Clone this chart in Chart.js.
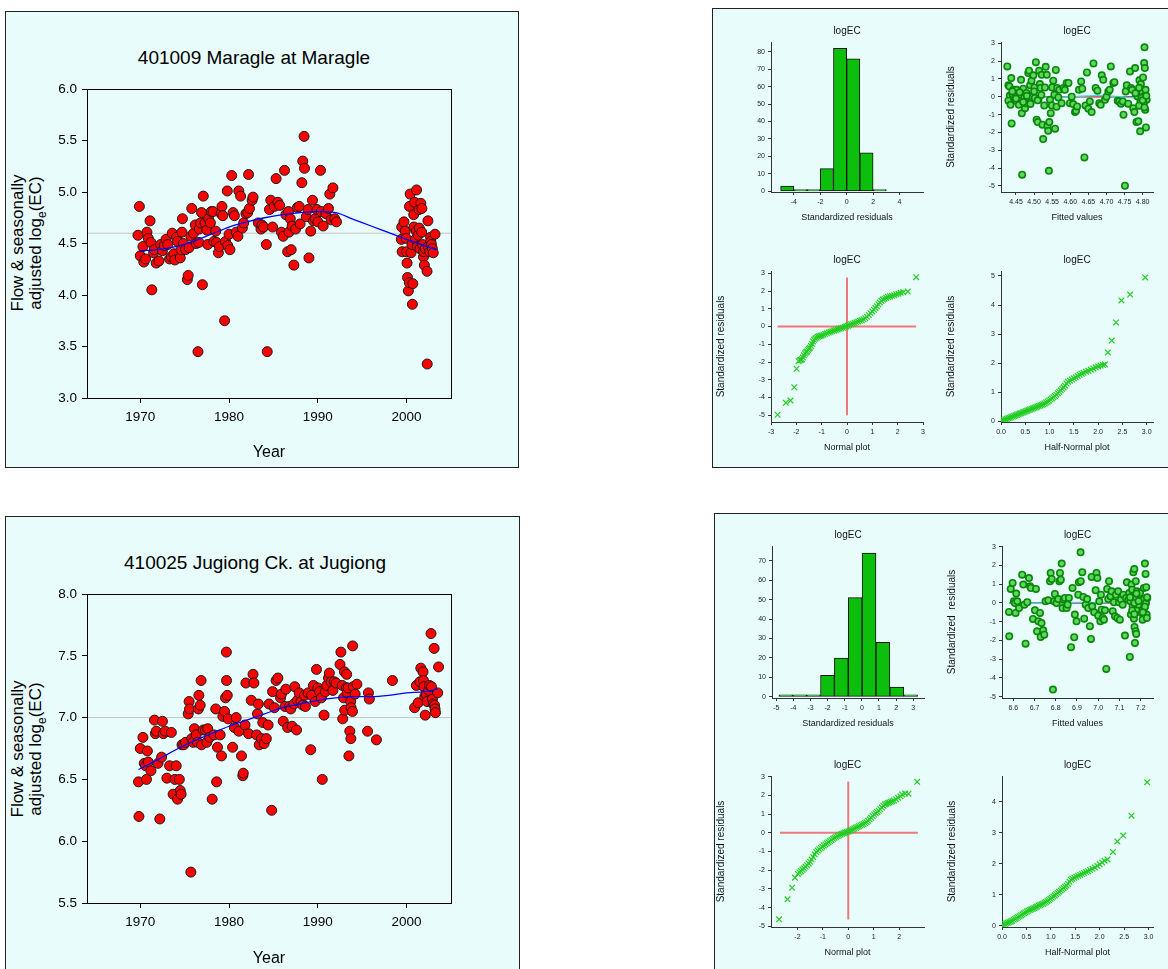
<!DOCTYPE html>
<html>
<head>
<meta charset="utf-8">
<script src="https://cdn.jsdelivr.net/npm/chart.js@4.4.0/dist/chart.umd.min.js"></script>
<style>
body { margin:0; width:1168px; height:969px; overflow:hidden; background:#fff; position:relative; font-family:Arial,"Liberation Sans",sans-serif; }
.panel { position:absolute; background:#e8fcfc; border:1px solid #222; box-sizing:border-box; }
canvas { position:absolute; }
.ttl { position:absolute; transform:translate(-50%,-50%); white-space:nowrap; font-size:19px; color:#000; }
.ylab { position:absolute; transform:translate(-50%,-50%) rotate(-90deg); white-space:nowrap; text-align:center; font-size:17px; line-height:18px; color:#000; }
.ylab sub { font-size:12px; }
</style>
</head>
<body>
<div class="panel" style="left:5px;top:11px;width:514px;height:457px"></div>
<div class="panel" style="left:712px;top:8px;width:470px;height:460px"></div>
<div class="panel" style="left:5px;top:516px;width:515px;height:470px"></div>
<div class="panel" style="left:714px;top:513px;width:470px;height:470px"></div>

<div class="ttl" style="left:254px;top:58px">401009 Maragle at Maragle</div>
<div class="ylab" style="left:30px;top:243px">Flow &amp; seasonally<br>adjusted log<sub>e</sub>(EC)</div>
<div class="ttl" style="left:255px;top:563px">410025 Jugiong Ck. at Jugiong</div>
<div class="ylab" style="left:30px;top:749px">Flow &amp; seasonally<br>adjusted log<sub>e</sub>(EC)</div>

<canvas id="mainA" width="511" height="454" style="left:6px;top:12px"></canvas>
<canvas id="mainB" width="511" height="454" style="left:6px;top:517px"></canvas>
<canvas id="histA"></canvas>
<canvas id="fitA"></canvas>
<canvas id="normA"></canvas>
<canvas id="halfA"></canvas>
<canvas id="histB"></canvas>
<canvas id="fitB"></canvas>
<canvas id="normB"></canvas>
<canvas id="halfB"></canvas>

<script>
// ---- Maragle: flow & seasonally adjusted log(EC)
const maragleYear = [
  1969.74,1969.9,1970.0,1970.3,1970.4,1970.6,1970.75,1970.9,1971.1,1971.2,
  1971.3,1971.5,1971.6,1971.8,1972.1,1972.3,1972.5,1972.7,1972.9,1973.1,
  1973.3,1973.5,1973.6,1973.8,1973.9,1974.1,1974.2,1974.5,1974.6,1974.7,
  1974.75,1974.85,1975.1,1975.3,1975.4,1975.5,1975.7,1975.8,1976.0,1976.2,
  1976.3,1976.5,1976.6,1976.65,1976.8,1976.9,1977.0,1977.1,1977.3,1977.5,
  1977.6,1977.7,1977.9,1978.0,1978.2,1978.3,1978.5,1978.6,1978.8,1978.9,
  1979.1,1979.2,1979.3,1979.5,1979.6,1979.8,1979.85,1980.0,1980.1,1980.3,
  1980.45,1980.6,1980.8,1981.0,1981.1,1981.3,1981.5,1981.65,1981.9,1982.1,
  1982.2,1982.3,1982.6,1982.7,1983.3,1983.6,1983.7,1983.9,1984.2,1984.3,
  1984.55,1984.7,1984.9,1985.1,1985.3,1985.5,1985.7,1985.9,1986.1,1986.25,
  1986.4,1986.6,1986.7,1986.75,1986.9,1987.0,1987.1,1987.3,1987.5,1987.7,
  1987.9,1988.0,1988.2,1988.3,1988.45,1988.5,1988.7,1988.9,1989.0,1989.2,
  1989.4,1989.5,1989.7,1989.9,1990.0,1990.3,1990.4,1990.6,1990.9,1991.2,
  1991.35,1991.5,1991.7,1991.9,1992.1,1999.4,1999.45,1999.5,1999.7,1999.85,
  1999.95,2000.0,2000.05,2000.1,2000.2,2000.3,2000.32,2000.4,2000.5,2000.6,
  2000.65,2000.7,2000.8,2000.82,2000.9,2001.0,2001.1,2001.12,2001.2,2001.3,
  2001.4,2001.42,2001.5,2001.6,2001.7,2001.72,2001.8,2001.9,2001.92,2002.0,
  2002.1,2002.3,2002.32,2002.4,2002.45,2002.6,2002.7,2002.72,2002.8,2002.9,
  2003.0,2003.2
];
const maragleEC = [
  4.58,4.86,4.38,4.47,4.32,4.35,4.61,4.55,4.72,4.51,
  4.05,4.41,4.44,4.31,4.33,4.49,4.43,4.48,4.54,4.49,
  4.35,4.37,4.60,4.40,4.34,4.56,4.52,4.36,4.44,4.61,
  4.74,4.50,4.44,4.15,4.19,4.46,4.57,4.84,4.60,4.68,
  4.50,3.45,4.51,4.64,4.70,4.80,4.10,4.96,4.70,4.63,
  4.49,4.74,4.70,4.81,4.81,4.52,4.62,4.51,4.41,4.47,
  4.79,4.86,4.77,3.75,4.52,5.01,4.48,4.59,4.44,5.16,
  4.80,4.77,4.61,4.57,5.01,4.96,4.65,4.70,4.79,4.80,
  5.17,4.84,4.92,4.95,4.70,4.64,4.68,4.66,4.49,3.45,
  4.83,4.92,4.66,4.86,5.13,4.90,4.87,4.61,4.57,5.21,
  4.78,4.42,4.81,4.61,4.74,4.44,4.67,4.29,4.64,4.85,
  4.86,4.69,5.09,5.30,5.54,5.23,4.76,4.83,4.36,4.62,
  4.92,4.72,4.74,4.83,4.71,5.21,4.81,4.67,4.79,4.84,
  4.98,4.73,5.04,4.74,4.71,4.54,4.66,4.42,4.71,4.62,
  4.55,4.42,4.31,4.17,4.04,4.12,4.86,4.98,4.41,4.49,
  3.91,4.11,4.78,4.66,4.90,4.54,4.62,5.02,4.47,4.58,
  4.83,4.65,4.45,4.89,4.61,4.84,4.49,4.37,4.42,4.29,
  4.45,4.23,3.33,4.72,4.47,4.42,4.56,4.52,4.49,4.45,
  4.41,4.59
];
const maragleTrendYear = [1969.9,1972,1974,1976,1978,1980,1982,1984,1986,1988,1990,1992,1994,1996,1998,2000,2002,2003.3];
const maragleTrend = [4.43,4.44,4.47,4.52,4.59,4.66,4.71,4.75,4.78,4.80,4.81,4.80,4.735,4.67,4.605,4.54,4.48,4.44];
const maragleRef = 4.6;

// ---- Jugiong
const jugiongYear = [
  1969.8,1969.85,1970.0,1970.3,1970.45,1970.6,1970.7,1970.8,1970.9,1971.2,
  1971.6,1971.7,1971.8,1972.0,1972.2,1972.4,1972.5,1972.6,1972.8,1973.0,
  1973.3,1973.5,1973.7,1973.9,1974.05,1974.2,1974.4,1974.5,1974.6,1974.7,
  1974.9,1975.1,1975.4,1975.5,1975.55,1975.7,1975.8,1975.95,1976.1,1976.3,
  1976.45,1976.55,1976.6,1976.75,1976.85,1976.9,1977.1,1977.35,1977.5,1977.6,
  1977.8,1978.1,1978.3,1978.5,1978.6,1978.7,1979.0,1979.15,1979.3,1979.5,
  1979.6,1979.7,1979.72,1979.8,1979.9,1980.4,1980.6,1980.8,1981.1,1981.4,
  1981.55,1981.6,1981.8,1981.9,1982.2,1982.5,1982.7,1982.8,1983.1,1983.2,
  1983.3,1983.4,1983.65,1983.8,1983.95,1984.2,1984.4,1984.5,1984.8,1984.9,
  1985.1,1985.3,1985.5,1985.8,1985.9,1986.1,1986.3,1986.4,1986.6,1986.8,
  1986.95,1987.1,1987.3,1987.4,1987.6,1987.7,1987.9,1988.1,1988.3,1988.5,
  1988.6,1988.9,1989.2,1989.3,1989.5,1989.7,1989.85,1990.0,1990.2,1990.4,
  1990.5,1990.7,1990.85,1991.0,1991.2,1991.3,1991.5,1991.7,1991.85,1992.05,
  1992.5,1992.6,1992.75,1992.8,1992.9,1993.0,1993.02,1993.2,1993.25,1993.3,
  1993.4,1993.5,1993.6,1993.7,1993.72,1993.75,1993.9,1993.92,1994.0,1994.2,
  1994.4,1995.6,1995.7,1995.8,1996.6,1998.4,2000.9,2001.1,2001.3,2001.5,
  2001.6,2001.85,2001.9,2001.95,2002.05,2002.1,2002.2,2002.3,2002.5,2002.6,
  2002.75,2002.8,2002.9,2003.0,2003.1,2003.15,2003.2,2003.25,2003.5,2003.6
];
const jugiongEC = [
  6.48,6.20,6.75,6.84,6.63,6.61,6.50,6.73,6.64,6.57,
  6.98,6.87,6.89,6.63,6.18,6.68,6.97,6.87,6.89,6.51,
  6.61,6.88,6.38,6.50,6.61,6.34,6.50,6.41,6.38,6.78,
  6.78,6.80,7.03,7.13,7.07,5.75,6.83,6.80,6.91,6.86,
  6.80,7.07,7.18,7.10,7.30,6.78,6.90,6.90,6.80,6.91,
  6.84,6.34,6.86,7.07,6.48,6.76,6.86,6.69,7.01,7.05,
  7.16,7.53,7.30,7.18,6.99,6.76,6.92,7.00,6.89,6.69,
  6.53,6.55,6.94,7.28,6.87,7.14,7.35,7.28,6.86,7.03,
  7.11,6.78,6.83,6.96,6.79,6.83,6.94,7.11,6.25,7.21,
  7.08,7.30,7.32,7.16,7.19,6.97,7.09,7.23,6.92,7.09,
  7.07,6.93,7.11,7.25,6.90,7.14,7.20,7.13,7.10,7.18,
  7.09,7.20,6.74,7.18,7.26,7.13,7.39,7.24,7.21,7.16,
  6.50,7.02,7.21,7.26,7.32,7.36,7.29,7.22,7.29,7.28,
  7.43,7.53,7.26,6.99,7.16,7.37,7.06,7.24,7.35,7.20,
  7.24,6.69,6.89,7.13,6.83,7.08,7.05,7.58,7.25,7.19,
  7.27,6.89,7.20,7.15,6.82,7.30,7.08,7.26,7.12,7.29,
  7.40,7.37,7.30,7.25,7.17,7.02,7.19,7.13,7.22,7.26,
  7.68,7.25,7.15,7.11,7.56,7.10,7.07,7.04,7.20,7.41
];
const jugiongTrendYear = [1969.8,1972,1974,1976,1978,1980,1982,1984,1986,1988,1990,1992,1994,1996,1998,2000,2002,2003.5];
const jugiongTrend = [6.58,6.66,6.74,6.81,6.87,6.93,6.98,7.03,7.08,7.11,7.14,7.16,7.17,7.17,7.18,7.20,7.21,7.23];
const jugiongRef = 7.0;

const yearTicks = [1970,1980,1990,2000];
const maragleTicks = [3.0,3.5,4.0,4.5,5.0,5.5,6.0];
const jugiongTicks = [5.5,6.0,6.5,7.0,7.5,8.0];

// ---- Maragle diagnostics
const histCentersA = [-4.5,-3.5,-2.5,-1.5,-0.5,0.5,1.5,2.5];
const histCountsA = [3,1,1,13,82,76,22,1];
const histXTicksA = [-4,-2,0,2,4];
const histYTicksA = [0,10,20,30,40,50,60,70,80];

const fittedA = [
  4.426,4.429,4.432,4.437,4.433,4.429,4.435,4.438,4.443,4.445,
  4.440,4.447,4.452,4.455,4.450,4.458,4.461,4.464,4.466,4.467,
  4.470,4.473,4.475,4.477,4.479,4.481,4.484,4.486,4.489,4.491,
  4.493,4.495,4.498,4.501,4.502,4.505,4.507,4.510,4.512,4.514,
  4.516,4.518,4.521,4.523,4.525,4.528,4.530,4.532,4.535,4.537,
  4.539,4.541,4.542,4.544,4.546,4.549,4.550,4.553,4.556,4.558,
  4.560,4.562,4.564,4.567,4.570,4.576,4.581,4.585,4.590,4.595,
  4.599,4.604,4.608,4.613,4.616,4.619,4.624,4.630,4.633,4.639,
  4.642,4.646,4.650,4.654,4.659,4.664,4.670,4.675,4.680,4.684,
  4.687,4.691,4.696,4.700,4.705,4.709,4.712,4.719,4.722,4.731,
  4.735,4.740,4.745,4.747,4.751,4.753,4.756,4.760,4.765,4.768,
  4.771,4.774,4.777,4.779,4.783,4.786,4.788,4.791,4.793,4.794,
  4.795,4.797,4.799,4.801,4.802,4.804,4.805,4.806,4.807,4.808,
  4.809,4.811,4.797,4.803,4.440,4.450,4.460,4.470,4.480,4.490,
  4.500,4.510,4.520,4.790,4.800,4.810,4.780,4.805,4.790
];
const residA = [
  1.70,0.64,0.58,1.05,0.07,-0.22,-0.45,-1.50,0.39,-0.07,
  0.15,0.21,0.39,0.11,-0.22,-0.45,0.11,0.95,-0.93,-4.37,
  0.45,-0.07,-0.64,-0.36,0.21,-0.17,1.33,1.46,0.64,-0.26,
  0.90,0.00,1.20,0.52,-0.07,1.94,-1.29,-1.42,-0.17,1.46,
  0.71,0.49,1.23,-1.57,-2.37,-0.49,0.52,1.68,1.23,-1.66,
  -1.91,-4.15,-1.42,-0.17,-0.92,-0.49,0.52,0.90,0.11,-1.79,
  1.50,-0.56,0.49,-0.04,0.39,-0.36,0.49,0.39,0.77,0.77,
  -0.36,0.00,-0.41,-0.86,-0.79,-0.54,0.39,0.86,0.45,-3.40,
  -0.49,1.36,-0.67,-0.26,-0.86,1.87,0.49,0.34,-0.36,-0.45,
  1.20,0.95,-0.17,0.00,0.30,0.39,1.70,0.77,0.82,-0.22,
  -0.26,-0.39,-0.26,-1.01,-4.99,0.30,0.64,-0.39,1.42,0.49,
  0.39,-0.64,-0.86,1.61,-1.42,0.02,-1.38,0.92,-1.94,-0.26,
  0.71,-0.45,0.21,1.08,0.02,1.89,2.77,1.61,-0.73,0.39,
  -1.72,-0.17,-0.07,-0.36,0.30,-0.10,0.25,-0.30,0.05,-0.40,
  0.30,-0.20,0.10,-0.50,-0.20,0.05,0.20,-0.60,0.50
];
const zeroLineA = [4.43,4.81];
const smoothFitA = [4.43,4.50,4.56,4.62,4.68,4.74,4.78,4.81];
const smoothResA = [0.02,0.0,-0.03,0.02,0.05,0.0,-0.05,-0.05];
const fitXTicksA = [4.45,4.50,4.55,4.60,4.65,4.70,4.75,4.80];
const resYTicks = [-5,-4,-3,-2,-1,0,1,2,3];

const normQA = [
  -2.74,-2.41,-2.23,-2.08,-1.99,-1.91,-1.86,-1.82,-1.78,-1.74,
  -1.70,-1.66,-1.62,-1.58,-1.54,-1.50,-1.46,-1.42,-1.38,-1.34,
  -1.30,-1.25,-1.20,-1.15,-1.10,-1.05,-1.00,-0.93,-0.86,-0.79,
  -0.72,-0.65,-0.58,-0.51,-0.44,-0.37,-0.30,-0.23,-0.16,-0.09,
  -0.03,0.03,0.09,0.16,0.23,0.30,0.37,0.44,0.51,0.58,
  0.65,0.72,0.79,0.86,0.93,1.00,1.06,1.12,1.18,1.24,
  1.30,1.36,1.42,1.48,1.55,1.62,1.70,1.78,1.86,1.94,
  2.03,2.12,2.22,2.40,2.73
];
const normRA = [
  -4.97,-4.30,-4.17,-3.42,-2.38,-1.95,-1.90,-1.88,-1.85,-1.75,
  -1.62,-1.52,-1.45,-1.40,-1.32,-1.25,-1.20,-1.10,-0.98,-0.85,
  -0.75,-0.68,-0.63,-0.58,-0.55,-0.52,-0.50,-0.46,-0.42,-0.38,
  -0.34,-0.30,-0.27,-0.23,-0.20,-0.16,-0.13,-0.10,-0.07,-0.03,
  0.00,0.04,0.08,0.13,0.16,0.20,0.24,0.28,0.32,0.36,
  0.41,0.47,0.55,0.65,0.75,0.85,0.95,1.05,1.15,1.25,
  1.35,1.45,1.52,1.57,1.62,1.67,1.70,1.73,1.77,1.82,
  1.85,1.90,1.93,1.97,2.78
];
const normXTicksA = [-3,-2,-1,0,1,2,3];

const halfQA = [
  0.00,0.03,0.06,0.09,0.12,0.15,0.18,0.21,0.24,0.27,
  0.30,0.33,0.36,0.39,0.42,0.45,0.48,0.51,0.54,0.57,
  0.60,0.63,0.66,0.69,0.72,0.75,0.78,0.81,0.84,0.87,
  0.90,0.93,0.96,0.99,1.02,1.05,1.08,1.11,1.14,1.17,
  1.20,1.23,1.26,1.29,1.32,1.35,1.38,1.42,1.46,1.50,
  1.54,1.58,1.62,1.66,1.70,1.75,1.80,1.85,1.90,1.95,
  2.00,2.05,2.10,2.14,2.20,2.28,2.37,2.48,2.66,2.97
];
const halfRA = [
  0.01,0.03,0.05,0.07,0.09,0.11,0.13,0.15,0.17,0.19,
  0.21,0.23,0.25,0.27,0.29,0.31,0.33,0.35,0.37,0.39,
  0.41,0.43,0.45,0.47,0.49,0.51,0.53,0.55,0.57,0.59,
  0.62,0.65,0.68,0.71,0.75,0.79,0.83,0.87,0.92,0.97,
  1.02,1.07,1.12,1.17,1.23,1.30,1.36,1.40,1.44,1.48,
  1.52,1.56,1.60,1.64,1.67,1.71,1.74,1.78,1.82,1.86,
  1.89,1.92,1.94,1.96,2.37,2.78,3.40,4.16,4.36,4.95
];
const halfXTicks = [0,0.5,1.0,1.5,2.0,2.5,3.0];
const halfYTicksA = [0,1,2,3,4,5];

// ---- Jugiong diagnostics
const histCentersB = [-4.44,-3.63,-2.82,-2.01,-1.20,-0.39,0.42,1.23,2.04,2.85];
const histCountsB = [1,1,1,11,20,51,74,28,5,1];
const histXTicksB = [-5,-4,-3,-2,-1,0,1,2,3];
const histYTicksB = [0,10,20,30,40,50,60,70];

const fittedB = [
  6.580,6.581,6.588,6.597,6.603,6.608,6.611,6.614,6.619,6.627,
  6.642,6.647,6.652,6.658,6.666,6.674,6.679,6.683,6.693,6.702,
  6.707,6.712,6.718,6.726,6.729,6.733,6.741,6.746,6.752,6.765,
  6.773,6.776,6.781,6.787,6.793,6.796,6.804,6.812,6.817,6.820,
  6.824,6.828,6.832,6.837,6.843,6.851,6.856,6.862,6.872,6.879,
  6.887,6.890,6.898,6.906,6.909,6.917,6.918,6.925,6.930,6.934,
  6.941,6.948,6.953,6.961,6.966,6.969,6.972,6.981,6.988,6.992,
  6.996,7.000,7.005,7.010,7.013,7.016,7.021,7.027,7.032,7.038,
  7.042,7.047,7.051,7.058,7.063,7.068,7.074,7.079,7.083,7.090,
  7.094,7.098,7.102,7.107,7.115,7.118,7.126,7.131,7.135,7.142,
  7.146,7.149,7.152,7.154,7.157,7.160,7.162,7.165,7.166,7.168,
  7.170,7.171,7.173,7.174,7.176,7.177,7.179,7.181,7.182,7.189,
  7.197,7.204,7.209,7.212,7.215,7.217,7.220,7.223,7.225,7.226,
  7.228,7.229,7.231,7.170,7.160,7.180,7.170,7.220,7.230,7.210,
  7.150,7.190
];
const residB = [
  -0.48,-1.78,0.75,1.07,0.09,0.00,-0.53,0.50,0.09,-0.27,
  1.51,0.98,-0.09,-2.17,0.04,1.33,0.89,0.80,-0.85,-0.39,
  0.75,-1.51,-0.98,-0.53,-1.81,-1.07,-1.46,-1.69,0.09,0.14,
  1.16,1.60,1.28,-4.62,0.09,0.48,0.00,0.21,1.16,1.60,
  1.24,2.10,-0.27,0.18,0.27,-0.27,-0.09,0.27,-2.36,0.80,
  -1.83,-0.62,-0.98,0.44,1.10,2.70,1.16,1.64,0.32,-0.84,
  -0.09,0.21,-0.27,-1.24,-1.92,1.39,-0.18,-0.50,0.68,1.60,
  1.33,-0.68,0.09,-0.98,0.44,-0.36,-0.80,-0.89,-0.39,-3.52,
  0.75,0.21,1.16,0.36,0.62,-0.44,0.04,-0.71,0.44,-0.80,
  0.62,0.04,-0.89,0.18,-0.09,0.44,-1.74,0.27,1.10,0.18,
  0.53,-2.88,0.09,-0.62,0.98,0.71,-0.18,1.64,0.36,-0.84,
  1.81,-1.28,-2.13,0.18,-1.51,1.16,-1.65,-0.36,0.62,-0.09,
  0.53,-0.53,-0.89,0.18,0.80,-0.27,2.10,1.55,0.00,0.84,
  -0.62,-0.80,0.27,0.00,-0.40,0.50,-0.60,-0.20,0.30,-0.50,
  0.30,0.10
];
const zeroLineB = [6.58,7.23];
const smoothFitB = [6.58,6.70,6.80,6.90,7.00,7.10,7.20,7.23];
const smoothResB = [0.0,-0.02,0.0,0.03,0.02,0.0,-0.02,-0.02];
const fitXTicksB = [6.6,6.7,6.8,6.9,7.0,7.1,7.2];

const normQB = [
  -2.72,-2.39,-2.21,-2.10,-1.98,-1.92,-1.86,-1.80,-1.74,-1.68,
  -1.62,-1.56,-1.50,-1.44,-1.38,-1.32,-1.26,-1.20,-1.14,-1.08,
  -1.02,-0.96,-0.90,-0.84,-0.78,-0.72,-0.66,-0.60,-0.54,-0.48,
  -0.42,-0.36,-0.30,-0.24,-0.18,-0.12,-0.06,0.00,0.06,0.12,
  0.18,0.24,0.30,0.36,0.42,0.48,0.54,0.60,0.66,0.72,
  0.78,0.84,0.90,0.96,1.02,1.08,1.14,1.20,1.26,1.32,
  1.38,1.44,1.50,1.56,1.62,1.68,1.74,1.80,1.88,1.96,
  2.05,2.12,2.24,2.37,2.71
];
const normRB = [
  -4.63,-3.56,-2.94,-2.40,-2.20,-2.12,-2.05,-1.97,-1.90,-1.82,
  -1.73,-1.64,-1.55,-1.43,-1.30,-1.15,-1.03,-0.95,-0.88,-0.81,
  -0.74,-0.68,-0.62,-0.56,-0.50,-0.44,-0.38,-0.32,-0.27,-0.22,
  -0.17,-0.13,-0.09,-0.05,-0.02,0.01,0.04,0.07,0.11,0.15,
  0.19,0.23,0.27,0.31,0.35,0.39,0.43,0.47,0.52,0.57,
  0.64,0.72,0.80,0.90,0.98,1.05,1.12,1.18,1.26,1.35,
  1.45,1.52,1.56,1.59,1.62,1.66,1.69,1.73,1.80,1.87,
  1.95,2.05,2.10,2.09,2.73
];
const normXTicksB = [-2,-1,0,1,2];

const halfQB = [
  0.00,0.03,0.06,0.09,0.12,0.15,0.18,0.21,0.24,0.27,
  0.30,0.33,0.36,0.39,0.42,0.45,0.48,0.51,0.54,0.57,
  0.60,0.63,0.66,0.69,0.72,0.75,0.78,0.81,0.84,0.87,
  0.90,0.93,0.96,0.99,1.02,1.05,1.08,1.11,1.14,1.17,
  1.20,1.23,1.26,1.29,1.32,1.35,1.38,1.41,1.44,1.48,
  1.52,1.56,1.60,1.64,1.68,1.72,1.76,1.80,1.85,1.90,
  1.95,2.00,2.05,2.10,2.16,2.27,2.36,2.48,2.65,2.97
];
const halfRB = [
  0.01,0.03,0.06,0.08,0.10,0.12,0.14,0.16,0.19,0.22,
  0.25,0.28,0.31,0.34,0.37,0.40,0.43,0.46,0.49,0.51,
  0.53,0.55,0.57,0.60,0.62,0.65,0.67,0.69,0.71,0.74,
  0.77,0.80,0.83,0.87,0.90,0.94,0.98,1.02,1.06,1.10,
  1.14,1.18,1.22,1.26,1.30,1.35,1.42,1.48,1.52,1.55,
  1.58,1.61,1.64,1.67,1.70,1.73,1.76,1.80,1.84,1.88,
  1.93,1.98,2.04,2.10,2.14,2.38,2.72,2.91,3.55,4.63
];
const halfYTicksB = [0,1,2,3,4];

Chart.defaults.font.family = 'Arial, "Liberation Sans", sans-serif';
Chart.defaults.animation = false;
Chart.defaults.events = [];
Chart.defaults.plugins.legend.display = false;
Chart.defaults.plugins.tooltip.enabled = false;

const pts = (xs, ys) => xs.map((x, i) => ({ x, y: ys[i] }));

// box round the main plot area
const frame = {
  id: 'frame',
  afterDraw(chart) {
    const { ctx, chartArea: a } = chart;
    ctx.save();
    ctx.strokeStyle = '#000';
    ctx.lineWidth = 1;
    ctx.strokeRect(Math.round(a.left) + 0.5, Math.round(a.top) + 0.5, Math.round(a.right - a.left), Math.round(a.bottom - a.top));
    ctx.restore();
  }
};

// "logEC" over the plot area
const areaTitle = {
  id: 'areaTitle',
  afterDraw(chart, args, opts) {
    if (!opts.text) return;
    const { ctx, chartArea: a } = chart;
    ctx.save();
    ctx.font = '10px Arial, "Liberation Sans", sans-serif';
    ctx.fillStyle = '#111';
    ctx.textAlign = 'center';
    ctx.textBaseline = 'middle';
    ctx.fillText(opts.text, (a.left + a.right) / 2, a.top - 10.5);
    ctx.restore();
  }
};

function mainChart(id, xs, ys, tx, ty, ref, yMin, yMax, yTicks, xTitlePad) {
  const xMin = 1964, xMax = 2005;
  new Chart(document.getElementById(id), {
    type: 'scatter',
    data: { datasets: [
      { data: [{ x: xMin, y: ref }, { x: xMax, y: ref }], showLine: true, borderColor: '#c4c4c4', borderWidth: 1, pointRadius: 0, order: 3 },
      { data: pts(xs, ys), pointRadius: 5, backgroundColor: '#ff0000', borderColor: '#1a1a1a', borderWidth: 1, order: 2 },
      { data: pts(tx, ty), showLine: true, borderColor: '#0000ff', borderWidth: 1.3, pointRadius: 0, cubicInterpolationMode: 'monotone', order: 1 }
    ]},
    options: {
      responsive: false,
      layout: { padding: { left: 0, top: 77, right: 66, bottom: 0 } },
      scales: {
        x: {
          type: 'linear', min: xMin, max: xMax,
          afterBuildTicks: s => { s.ticks = yearTicks.map(v => ({ value: v })); },
          afterFit: s => { s.height = 68; },
          grid: { drawOnChartArea: false, tickLength: 5, color: '#000' },
          border: { color: '#000' },
          ticks: { font: { size: 13.5 }, color: '#000', padding: 6, maxRotation: 0, callback: v => String(v) },
          title: { display: true, text: 'Year', color: '#000', font: { size: 16, lineHeight: 1 }, padding: { top: 0, bottom: xTitlePad } }
        },
        y: {
          type: 'linear', min: yMin, max: yMax,
          afterBuildTicks: s => { s.ticks = yTicks.map(v => ({ value: v })); },
          afterFit: s => { s.width = 81; },
          grid: { drawOnChartArea: false, tickLength: 5, color: '#000' },
          border: { color: '#000' },
          ticks: { font: { size: 13.5 }, color: '#000', padding: 5, callback: v => v.toFixed(1) }
        }
      }
    },
    plugins: [frame]
  });
}

mainChart('mainA', maragleYear, maragleEC, maragleTrendYear, maragleTrend, maragleRef, 3.0, 6.0, maragleTicks, 5);
mainChart('mainB', jugiongYear, jugiongEC, jugiongTrendYear, jugiongTrend, jugiongRef, 5.5, 8.0, jugiongTicks, 4);

// small diagnostic plots
const PAD_L = 62, PAD_T = 40, PAD_R = 12, PAD_B = 40;

function smallAxis(min, max, ticks, dec, title, isY) {
  return {
    type: 'linear', min, max, offset: false,
    afterBuildTicks: s => { s.ticks = ticks.map(v => ({ value: v })); },
    afterFit: s => { if (isY) s.width = PAD_L; else s.height = PAD_B; },
    grid: { drawOnChartArea: false, tickLength: 3, color: '#333', offset: false },
    border: { display: true, color: '#333', width: 1 },
    ticks: { font: { size: 7 }, color: '#222', padding: 3, maxRotation: 0, autoSkip: false, callback: v => v.toFixed(dec) },
    title: title
      ? (isY
        ? { display: true, text: title, color: '#111', font: { size: 10, lineHeight: 1 }, padding: { top: 7, bottom: 0 } }
        : { display: true, text: title, color: '#111', font: { size: 9, lineHeight: 1 }, padding: { top: 0, bottom: 10 } })
      : { display: false }
  };
}

function smallChart(id, area, type, datasets, xAxis, yAxis) {
  const cv = document.getElementById(id);
  cv.width = Math.round(area.r - area.l) + PAD_L + PAD_R;
  cv.height = Math.round(area.b - area.t) + PAD_T + PAD_B;
  cv.style.left = (area.l - PAD_L) + 'px';
  cv.style.top = (area.t - PAD_T) + 'px';
  new Chart(cv, {
    type,
    data: { datasets },
    options: {
      responsive: false,
      layout: { padding: { left: 0, top: PAD_T, right: PAD_R, bottom: 0 } },
      scales: { x: xAxis, y: yAxis },
      plugins: { areaTitle: { text: 'logEC' } }
    },
    plugins: [areaTitle]
  });
}

const barStyle = { backgroundColor: '#0cbf0c', borderColor: '#111', borderWidth: 1, barPercentage: 1, categoryPercentage: 1, borderSkipped: false };
const ringStyle = { pointRadius: 3.2, backgroundColor: '#5fd85f', borderColor: '#0a870a', borderWidth: 1.6, order: 1 };
const crossStyle = { pointStyle: 'crossRot', pointRadius: 4, borderColor: '#22cc22', borderWidth: 1.2, order: 1 };
const hLine = (x0, x1, y, color, w) => ({ data: [{ x: x0, y }, { x: x1, y }], showLine: true, borderColor: color, borderWidth: w, pointRadius: 0, order: 3 });
const vLine = (x, y0, y1, color, w) => ({ data: [{ x, y: y0 }, { x, y: y1 }], showLine: true, borderColor: color, borderWidth: w, pointRadius: 0, order: 3 });

// Maragle
smallChart('histA', { l: 771, t: 42, r: 923, b: 192 }, 'bar',
  [{ data: pts(histCentersA, histCountsA), ...barStyle }],
  smallAxis(-5.73, 5.78, histXTicksA, 0, 'Standardized residuals', false),
  smallAxis(-0.4, 85.6, histYTicksA, 0, null, true));

smallChart('fitA', { l: 1001, t: 42, r: 1153, b: 192 }, 'scatter',
  [hLine(zeroLineA[0], zeroLineA[1], 0, '#ff0000', 1.5),
   { data: pts(smoothFitA, smoothResA), showLine: true, borderColor: '#35dce6', borderWidth: 1.5, pointRadius: 0, cubicInterpolationMode: 'monotone', order: 2 },
   { data: pts(fittedA, residA), ...ringStyle }],
  smallAxis(4.4086, 4.8285, fitXTicksA, 2, 'Fitted values', false),
  smallAxis(-5.34, 3.07, resYTicks, 0, 'Standardized residuals', true));

smallChart('normA', { l: 771, t: 271, r: 923, b: 422 }, 'scatter',
  [hLine(-2.74, 2.73, 0, '#f07878', 2), vLine(0, -5.0, 2.77, '#f07878', 2),
   { data: pts(normQA, normRA), ...crossStyle }],
  smallAxis(-3, 3, normXTicksA, 0, 'Normal plot', false),
  smallAxis(-5.38, 3.13, resYTicks, 0, 'Standardized residuals', true));

smallChart('halfA', { l: 1001, t: 271, r: 1153, b: 422 }, 'scatter',
  [{ data: pts(halfQA, halfRA), ...crossStyle }],
  smallAxis(0, 3.13, halfXTicks, 1, 'Half-Normal plot', false),
  smallAxis(-0.02, 5.17, halfYTicksA, 0, 'Standardized residuals', true));

// Jugiong
smallChart('histB', { l: 772, t: 546, r: 924, b: 698 }, 'bar',
  [{ data: pts(histCentersB, histCountsB), ...barStyle }],
  smallAxis(-5.25, 3.63, histXTicksB, 0, 'Standardized residuals', false),
  smallAxis(-0.6, 77.6, histYTicksB, 0, null, true));

smallChart('fitB', { l: 1002, t: 546, r: 1153, b: 698 }, 'scatter',
  [hLine(zeroLineB[0], zeroLineB[1], 0, '#ff0000', 1.5),
   { data: pts(smoothFitB, smoothResB), showLine: true, borderColor: '#35dce6', borderWidth: 1.5, pointRadius: 0, cubicInterpolationMode: 'monotone', order: 2 },
   { data: pts(fittedB, residB), ...ringStyle }],
  smallAxis(6.547, 7.258, fitXTicksB, 1, 'Fitted values', false),
  smallAxis(-5.07, 3.04, resYTicks, 0, 'Standardized  residuals', true));

smallChart('normB', { l: 771, t: 776, r: 924, b: 927 }, 'scatter',
  [hLine(-2.69, 2.74, 0, '#f07878', 2), vLine(0, -4.64, 2.74, '#f07878', 2),
   { data: pts(normQB, normRB), ...crossStyle }],
  smallAxis(-3.04, 2.98, normXTicksB, 0, 'Normal plot', false),
  smallAxis(-5.04, 3.04, resYTicks, 0, 'Standardized residuals', true));

smallChart('halfB', { l: 1002, t: 776, r: 1153, b: 927 }, 'scatter',
  [{ data: pts(halfQB, halfRB), ...crossStyle }],
  smallAxis(0, 3.09, halfXTicks, 1, 'Half-Normal plot', false),
  smallAxis(-0.04, 4.83, halfYTicksB, 0, 'Standardized residuals', true));
</script>
</body>
</html>
